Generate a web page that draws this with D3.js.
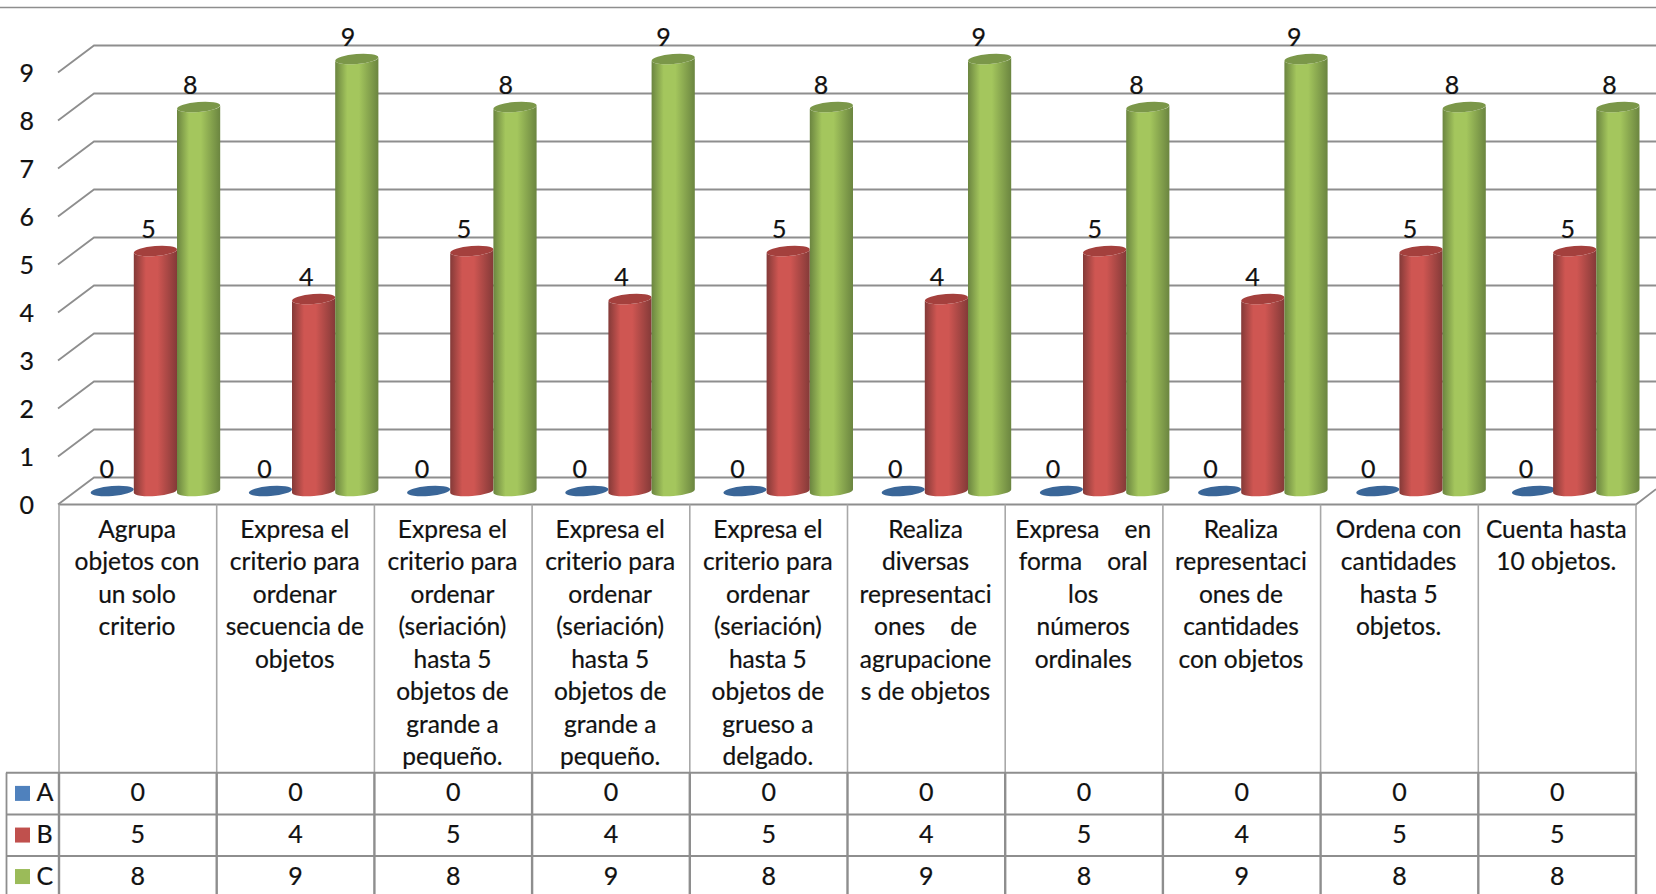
<!DOCTYPE html>
<html><head><meta charset="utf-8">
<script src="https://cdn.jsdelivr.net/npm/d3@7"></script>
<style>
html,body{margin:0;padding:0;background:#fff;overflow:hidden}
svg{display:block}
text{font-family:Lato,"Open Sans",sans-serif;fill:#111;white-space:pre;stroke:#111;stroke-width:.22px}
</style></head><body><svg id="c" width="1656" height="894"></svg>
<script>
const categories=[
 ["Agrupa","objetos con","un solo","criterio"],
 ["Expresa el","criterio para","ordenar","secuencia de","objetos"],
 ["Expresa el","criterio para","ordenar","(seriación)","hasta 5","objetos de","grande a","pequeño."],
 ["Expresa el","criterio para","ordenar","(seriación)","hasta 5","objetos de","grande a","pequeño."],
 ["Expresa el","criterio para","ordenar","(seriación)","hasta 5","objetos de","grueso a","delgado."],
 ["Realiza","diversas","representaci","ones    de","agrupacione","s de objetos"],
 ["Expresa    en","forma    oral","los","números","ordinales"],
 ["Realiza","representaci","ones de","cantidades","con objetos"],
 ["Ordena con","cantidades","hasta 5","objetos."],
 ["Cuenta hasta","10 objetos."]
];
const seriesNames=["A","B","C"];
const seriesA=[0,0,0,0,0,0,0,0,0,0];
const seriesB=[5,4,5,4,5,4,5,4,5,5];
const seriesC=[8,9,8,9,8,9,8,9,8,8];
const yTicks=[0,1,2,3,4,5,6,7,8,9];
const allSeries=[seriesA,seriesB,seriesC];
const colors=[
 {key:"#4f81bd",cap:"#3a6698",edge:"#3a6698",mid:"#4f81bd"},
 {key:"#c0504d",cap:"#a4403d",edge:"#843a38",mid:"#cf5652"},
 {key:"#9bbb59",cap:"#7b9749",edge:"#6b8540",mid:"#a4c65d"}
];
const W=1656,H=894;
const svg=d3.select("#c");
const defs=svg.append("defs");
colors.forEach((c,i)=>{
 const g=defs.append("linearGradient").attr("id","g"+i);
 [[0,c.edge],[.28,c.mid],[.55,c.mid],[1,c.edge]].forEach(s=>g.append("stop").attr("offset",s[0]).attr("stop-color",s[1]));
});
const left=59,right=1636,depthX=35,depthY=27;
const x=d3.scaleBand().domain(d3.range(categories.length)).range([left,right]);
const yFront=d3.scaleLinear().domain([0,9]).range([504.5,72.5]);
const yMid=v=>yFront(v)-13.5;
const yBack=v=>yFront(v)-depthY;
const gridCol="#8e8e8e";
// top frame
svg.append("line").attr("x1",0).attr("x2",W).attr("y1",7.5).attr("y2",7.5).attr("stroke",gridCol).attr("stroke-width",1.6);
// grid
const grid=svg.append("g").attr("fill","none").attr("stroke",gridCol).attr("stroke-width",1.8);
yTicks.forEach(t=>{
 grid.append("path").attr("d",`M${left-1},${yFront(t)}L${left+depthX},${yBack(t)}L${W},${yBack(t)}`);
});
grid.append("path").attr("d",`M${left},${yFront(0)}L${right},${yFront(0)}L${right+20},${yFront(0)-15.4}`);
// y axis labels
const axis=d3.axisLeft(yFront).tickValues(yTicks).tickSize(0).tickPadding(0).tickFormat(d3.format("d"));
const ax=svg.append("g").attr("transform","translate(34,0.6)").call(axis);
ax.select(".domain").remove();
ax.selectAll("text").style("font-size","25px").style("font-family",null).attr("fill",null);
// cylinders
const barW=43.2;
const barStep=158.2;
const barX=(ci,si)=>90.6+ci*barStep+si*barW-(ci===9?(si===0?2.5:4.5):0);
const rx=barW/2,ry=5,rot=-4.5,dy=1.7;
const bars=svg.append("g");
categories.forEach((_,ci)=>{
 allSeries.forEach((s,si)=>{
  const v=s[ci],l=barX(ci,si),r=l+barW,top=yMid(v),bot=yMid(0);
  if(v>0){
   bars.append("path").attr("fill",`url(#g${si})`)
    .attr("d",`M${l},${top+dy}L${l},${bot+dy}A${rx},${ry} ${rot} 0 0 ${r},${bot-dy}L${r},${top-dy}A${rx},${ry} ${rot} 0 1 ${l},${top+dy}Z`);
  }
  bars.append("ellipse").attr("cx",(l+r)/2).attr("cy",top).attr("rx",rx).attr("ry",ry)
   .attr("transform",`rotate(${rot} ${(l+r)/2} ${top})`).attr("fill",colors[si].cap);
 });
});
// data labels
const labelOff=[47.7,89.5,131.3];
const labels=svg.append("g").attr("text-anchor","middle").style("font-size","25px");
categories.forEach((_,ci)=>allSeries.forEach((s,si)=>{
 labels.append("text").attr("x",x(ci)+labelOff[si]).attr("y",yMid(s[ci])-21.5).attr("dy","0.35em").text(s[ci]);
}));
// table
const rowY=[772.7,814.5,856,897.5];
const tab=svg.append("g").attr("stroke",gridCol);
d3.range(categories.length+1).forEach(i=>{
 const px=i===categories.length?right:x(i);
 tab.append("line").attr("x1",px).attr("x2",px).attr("y1",yFront(0)).attr("y2",rowY[0]).attr("stroke","#a8a8a8").attr("stroke-width",1.6);
 tab.append("line").attr("x1",px).attr("x2",px).attr("y1",rowY[0]).attr("y2",H).attr("stroke-width",2.4);
});
tab.append("line").attr("x1",6.5).attr("x2",6.5).attr("y1",rowY[0]).attr("y2",H).attr("stroke-width",1.8);
rowY.slice(0,3).forEach(y=>tab.append("line").attr("x1",6).attr("x2",right+1).attr("y1",y).attr("y2",y).attr("stroke-width",2));
// category text
const catText=svg.append("g").attr("text-anchor","middle").style("font-size","24.5px");
categories.forEach((lines,ci)=>lines.forEach((ln,li)=>{
 catText.append("text").attr("x",x(ci)+x.bandwidth()/2-0.8).attr("y",529.3+li*32.5).attr("dy","0.35em").text(ln);
}));
// table values and legend
const tv=svg.append("g").style("font-size","25px");
allSeries.forEach((s,si)=>{
 const cy=(rowY[si]+rowY[si+1])/2-1;
 tv.append("rect").attr("x",15).attr("y",cy-6.7).attr("width",15).attr("height",15).attr("fill",colors[si].key);
 tv.append("text").attr("x",36.5).attr("y",cy).attr("dy","0.35em").text(seriesNames[si]);
 s.forEach((v,ci)=>tv.append("text").attr("text-anchor","middle").attr("x",x(ci)+x.bandwidth()/2).attr("y",cy).attr("dy","0.35em").text(v));
});
</script></body></html>
